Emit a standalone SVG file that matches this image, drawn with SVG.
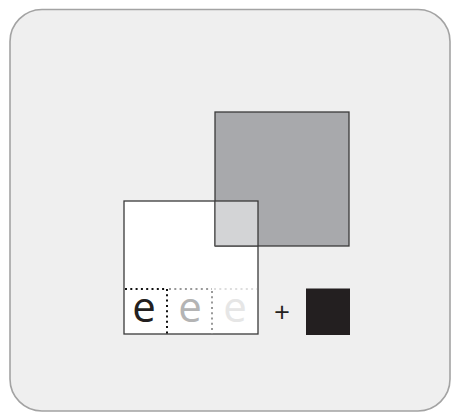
<svg xmlns="http://www.w3.org/2000/svg" width="451" height="413" viewBox="0 0 451 413">
<style>
.e{font-family:"Open Sans","Liberation Sans",sans-serif;font-size:42px;text-anchor:middle}
.edge{fill:none;stroke:#3a3a3a;stroke-width:1.3}
.d{stroke-width:2;stroke-dasharray:2 3.3}
</style>
<rect x="10" y="9.5" width="440" height="401.5" rx="32" fill="#efefef" stroke="#a3a3a3" stroke-width="1.6"/>
<g id="white-square">
<rect x="124" y="201" width="134" height="133" fill="#ffffff"/>
</g>
<g id="gray-square">
<rect x="215" y="112" width="134" height="134" fill="#a8a9ac" stroke="#3a3a3a" stroke-width="1.3"/>
</g>
<g id="overlap">
<rect x="215" y="201" width="43" height="45" fill="#d3d4d6"/>
<line x1="215" y1="201" x2="215" y2="246" stroke="#555" stroke-width="1.3"/>
<line x1="215" y1="246" x2="258" y2="246" stroke="#555" stroke-width="1.3"/>
</g>
<rect class="edge" x="124" y="201" width="134" height="133"/>
<g id="dots">
<line class="d" x1="125" y1="289" x2="167" y2="289" stroke="#111"/>
<line class="d" x1="169" y1="289" x2="212" y2="289" stroke="#999"/>
<line class="d" x1="214" y1="289" x2="257" y2="289" stroke="#ddd"/>
<line class="d" x1="167" y1="289" x2="167" y2="334" stroke="#111"/>
<line class="d" x1="212" y1="291" x2="212" y2="334" stroke="#999"/>
</g>
<g id="letters">
<text class="e" x="144" y="322" fill="#231f20">e</text>
<text class="e" x="190" y="322" fill="#b4b4b4">e</text>
<text class="e" x="235" y="322" fill="#e6e6e6">e</text>
</g>
<g id="plus">
<text x="282" y="322" font-family="'Open Sans','Liberation Sans',sans-serif" font-size="28" text-anchor="middle" fill="#231f20">+</text>
</g>
<g id="black-square">
<rect x="306" y="288.5" width="44" height="46.5" fill="#231f20"/>
</g>
</svg>
